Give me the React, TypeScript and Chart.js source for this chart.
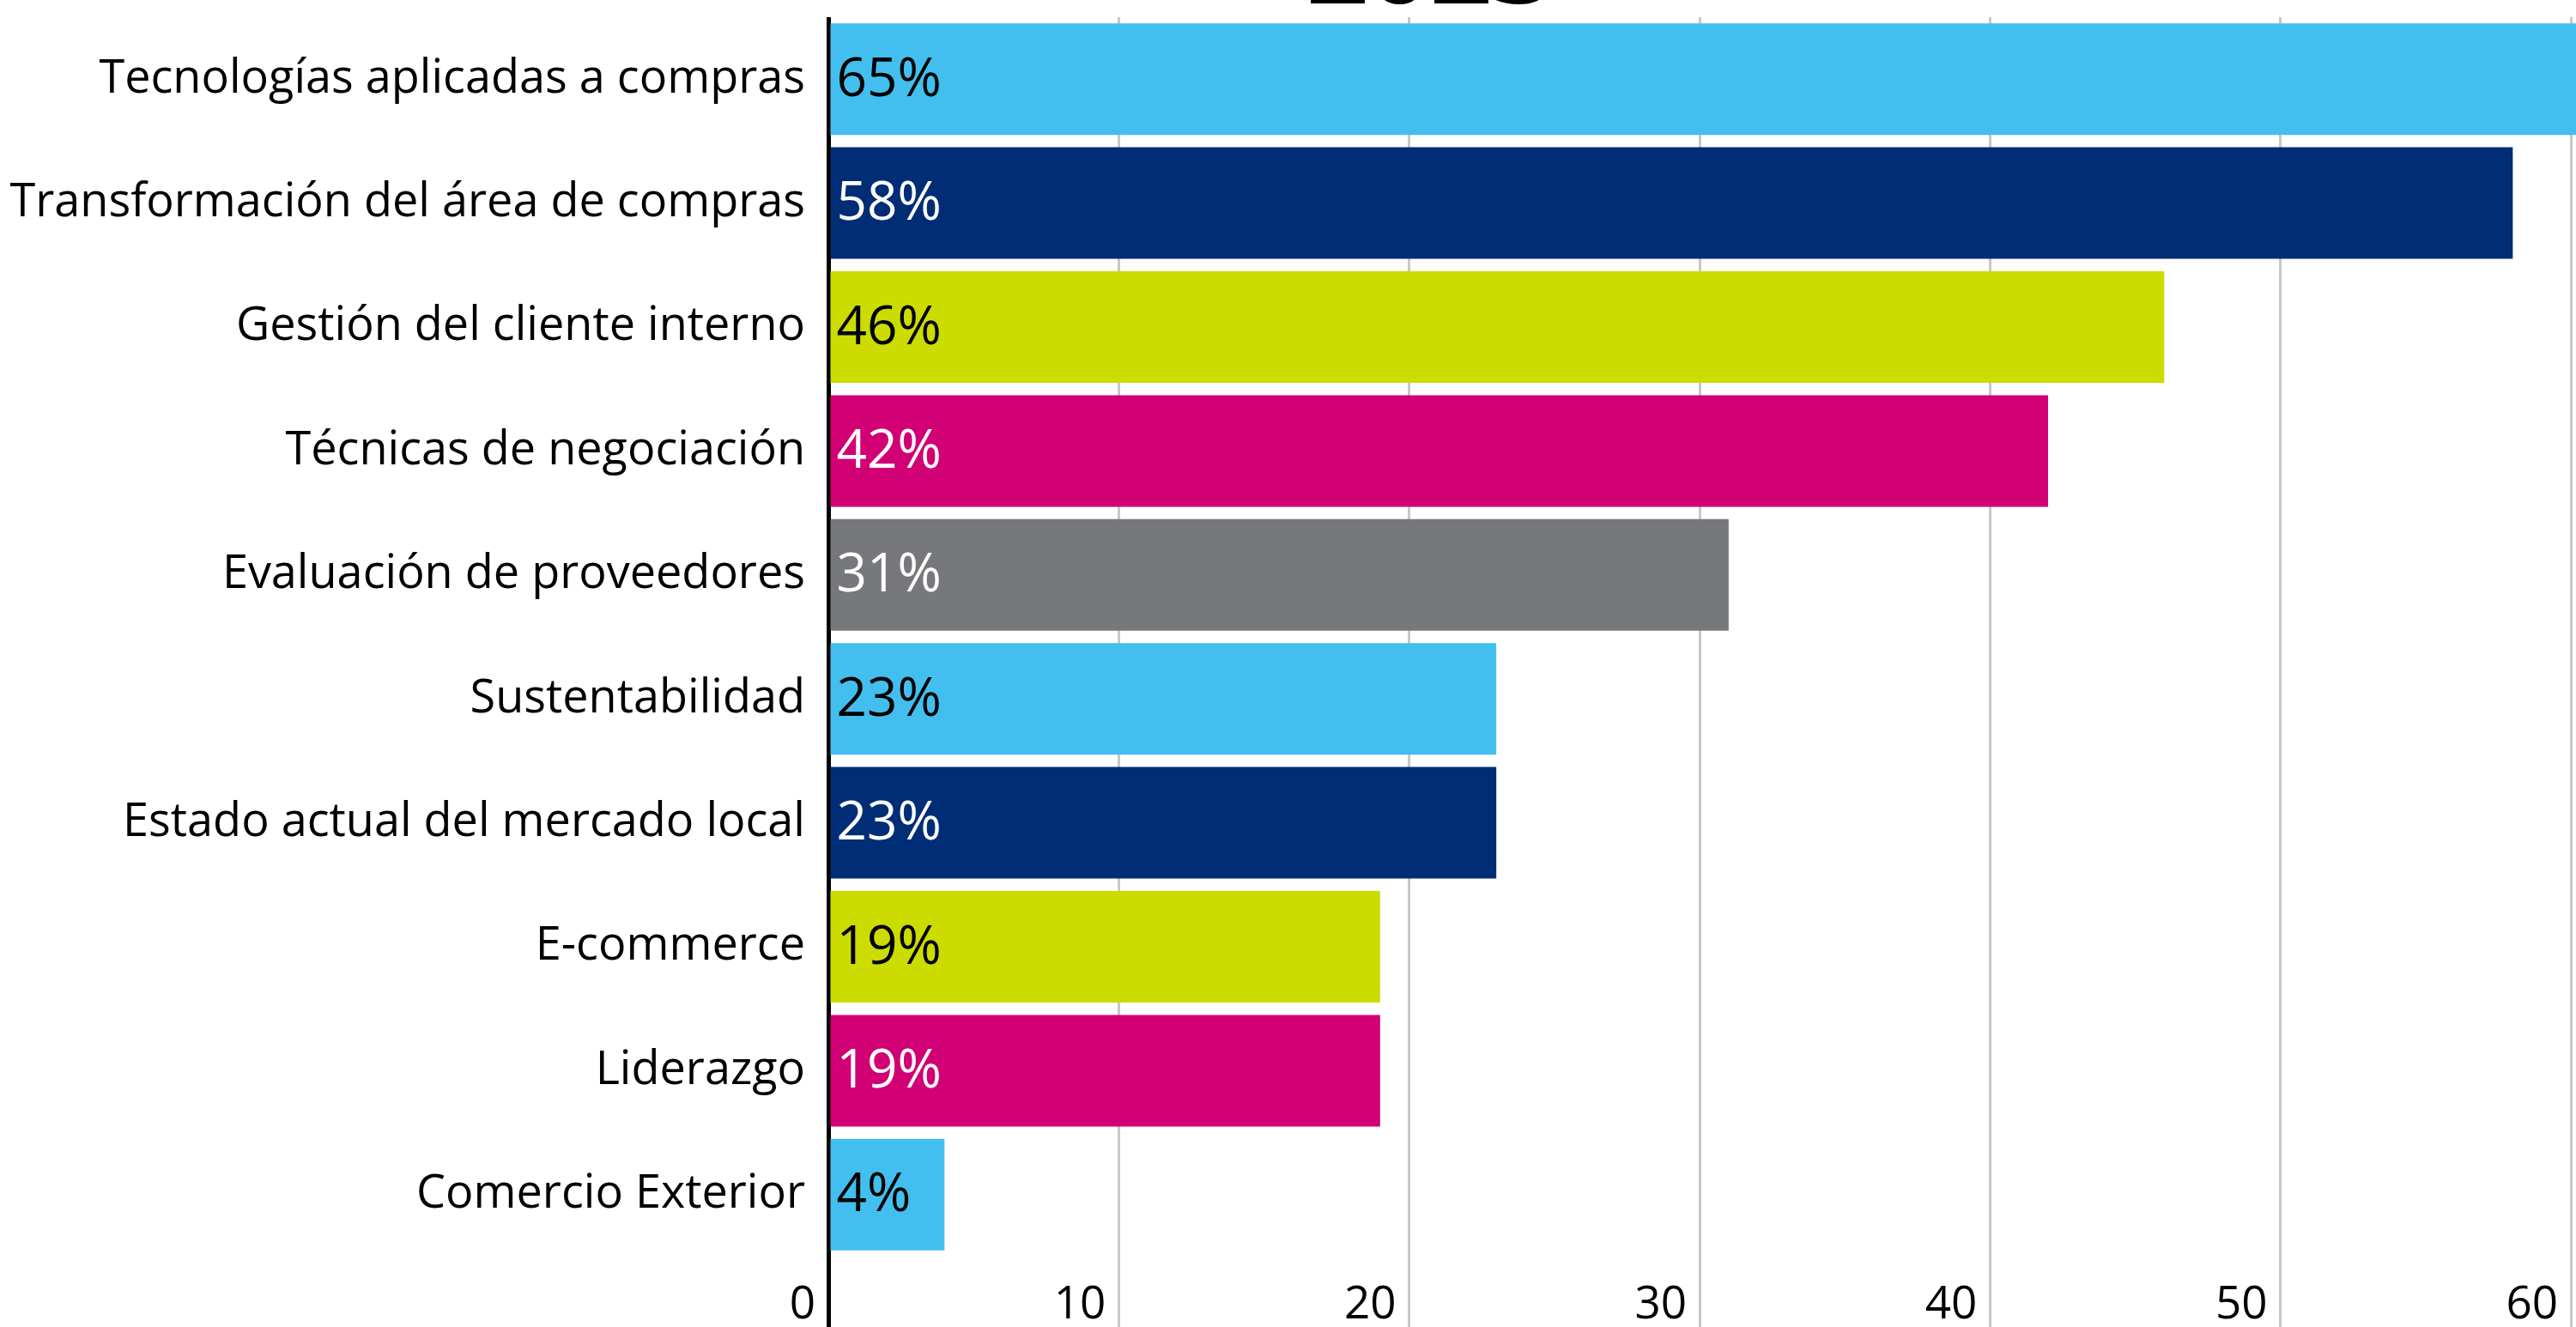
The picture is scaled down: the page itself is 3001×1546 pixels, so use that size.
import React, { useEffect, useRef } from 'react';
import { Chart, registerables } from 'chart.js';

Chart.register(...registerables);

const categories = [
  'Tecnologías aplicadas a compras',
  'Transformación del área de compras',
  'Gestión del cliente interno',
  'Técnicas de negociación',
  'Evaluación de proveedores',
  'Sustentabilidad',
  'Estado actual del mercado local',
  'E-commerce',
  'Liderazgo',
  'Comercio Exterior',
];
const values = [65, 58, 46, 42, 31, 23, 23, 19, 19, 4];
const barColors = [
  '#42BFEE', '#002D76', '#CCDC00', '#D10074', '#77787B',
  '#42BFEE', '#002D76', '#CCDC00', '#D10074', '#42BFEE',
];
const valueLabelColors = [
  '#000000', '#FFFFFF', '#000000', '#FFFFFF', '#FFFFFF',
  '#000000', '#FFFFFF', '#000000', '#FFFFFF', '#000000',
];
const xMin = 0;
const xMax = 60;
const xStep = 10;
const titleText = '2023';

const FONT = "'Open Sans', 'Noto Sans', sans-serif";

export default function App() {
  const canvasRef = useRef<HTMLCanvasElement | null>(null);

  useEffect(() => {
    const canvas = canvasRef.current;
    if (!canvas) return;

    const valueLabelPlugin = {
      id: 'valueLabels',
      afterDatasetsDraw(chart: any) {
        const ctx = chart.ctx;
        const meta = chart.getDatasetMeta(0);
        ctx.save();
        ctx.font = `62px ${FONT}`;
        ctx.textAlign = 'left';
        ctx.textBaseline = 'middle';
        meta.data.forEach((bar: any, i: number) => {
          ctx.fillStyle = valueLabelColors[i];
          ctx.fillText(`${values[i]}%`, bar.base + 7, bar.y + 2);
        });
        ctx.restore();
      },
    };

    const titlePlugin = {
      id: 'cutTitle',
      afterDraw(chart: any) {
        const ctx = chart.ctx;
        ctx.save();
        ctx.font = `bold 126px ${FONT}`;
        ctx.textAlign = 'left';
        ctx.textBaseline = 'alphabetic';
        ctx.fillStyle = '#000000';
        ctx.fillText(titleText, 1522, 4);
        ctx.restore();
      },
    };

    const chart = new Chart(canvas, {
      type: 'bar',
      data: {
        labels: categories,
        datasets: [
          {
            data: values,
            backgroundColor: barColors,
            borderWidth: 0,
            categoryPercentage: 1,
            barPercentage: 0.9,
            clip: false as any,
          },
        ],
      },
      options: {
        indexAxis: 'y',
        animation: false,
        responsive: false,
        devicePixelRatio: 1,
        layout: { padding: { top: 20, right: 6, left: 0, bottom: 0 } },
        plugins: {
          legend: { display: false },
          tooltip: { enabled: false },
          title: { display: false },
        },
        scales: {
          x: {
            type: 'linear',
            position: 'bottom',
            min: xMin,
            max: xMax,
            border: { display: false },
            grid: {
              drawTicks: true,
              tickLength: 85,
              color: (c: any) => (c.tick && c.tick.value === 0 ? '#000000' : '#C8C8C8'),
              lineWidth: (c: any) => (c.tick && c.tick.value === 0 ? 5 : 3),
            },
            ticks: {
              stepSize: xStep,
              align: 'end',
              labelOffset: -15,
              padding: -60,
              color: '#000000',
              font: { family: FONT, size: 53 },
              maxRotation: 0,
              callback: (v: any) => String(v),
            },
            afterFit: (scale: any) => {
              scale.height = 82;
              scale.paddingLeft = 0;
              scale.paddingRight = 0;
            },
          },
          y: {
            type: 'category',
            position: 'left',
            border: { display: false },
            grid: { display: false, drawTicks: false },
            ticks: {
              color: '#000000',
              padding: 27,
              font: { family: FONT, size: 54 },
            },
            afterFit: (scale: any) => {
              scale.width = 965;
              scale.paddingTop = 0;
              scale.paddingBottom = 0;
            },
          },
        },
      },
      plugins: [valueLabelPlugin, titlePlugin],
    } as any);

    return () => {
      chart.destroy();
    };
  }, []);

  return (
    <div
      style={{
        position: 'absolute',
        left: 0,
        top: 0,
        width: 3001,
        height: 1546,
        background: '#FFFFFF',
        overflow: 'hidden',
      }}
    >
      <canvas
        ref={canvasRef}
        width={3001}
        height={1546}
        style={{ display: 'block', width: 3001, height: 1546 }}
      />
    </div>
  );
}
